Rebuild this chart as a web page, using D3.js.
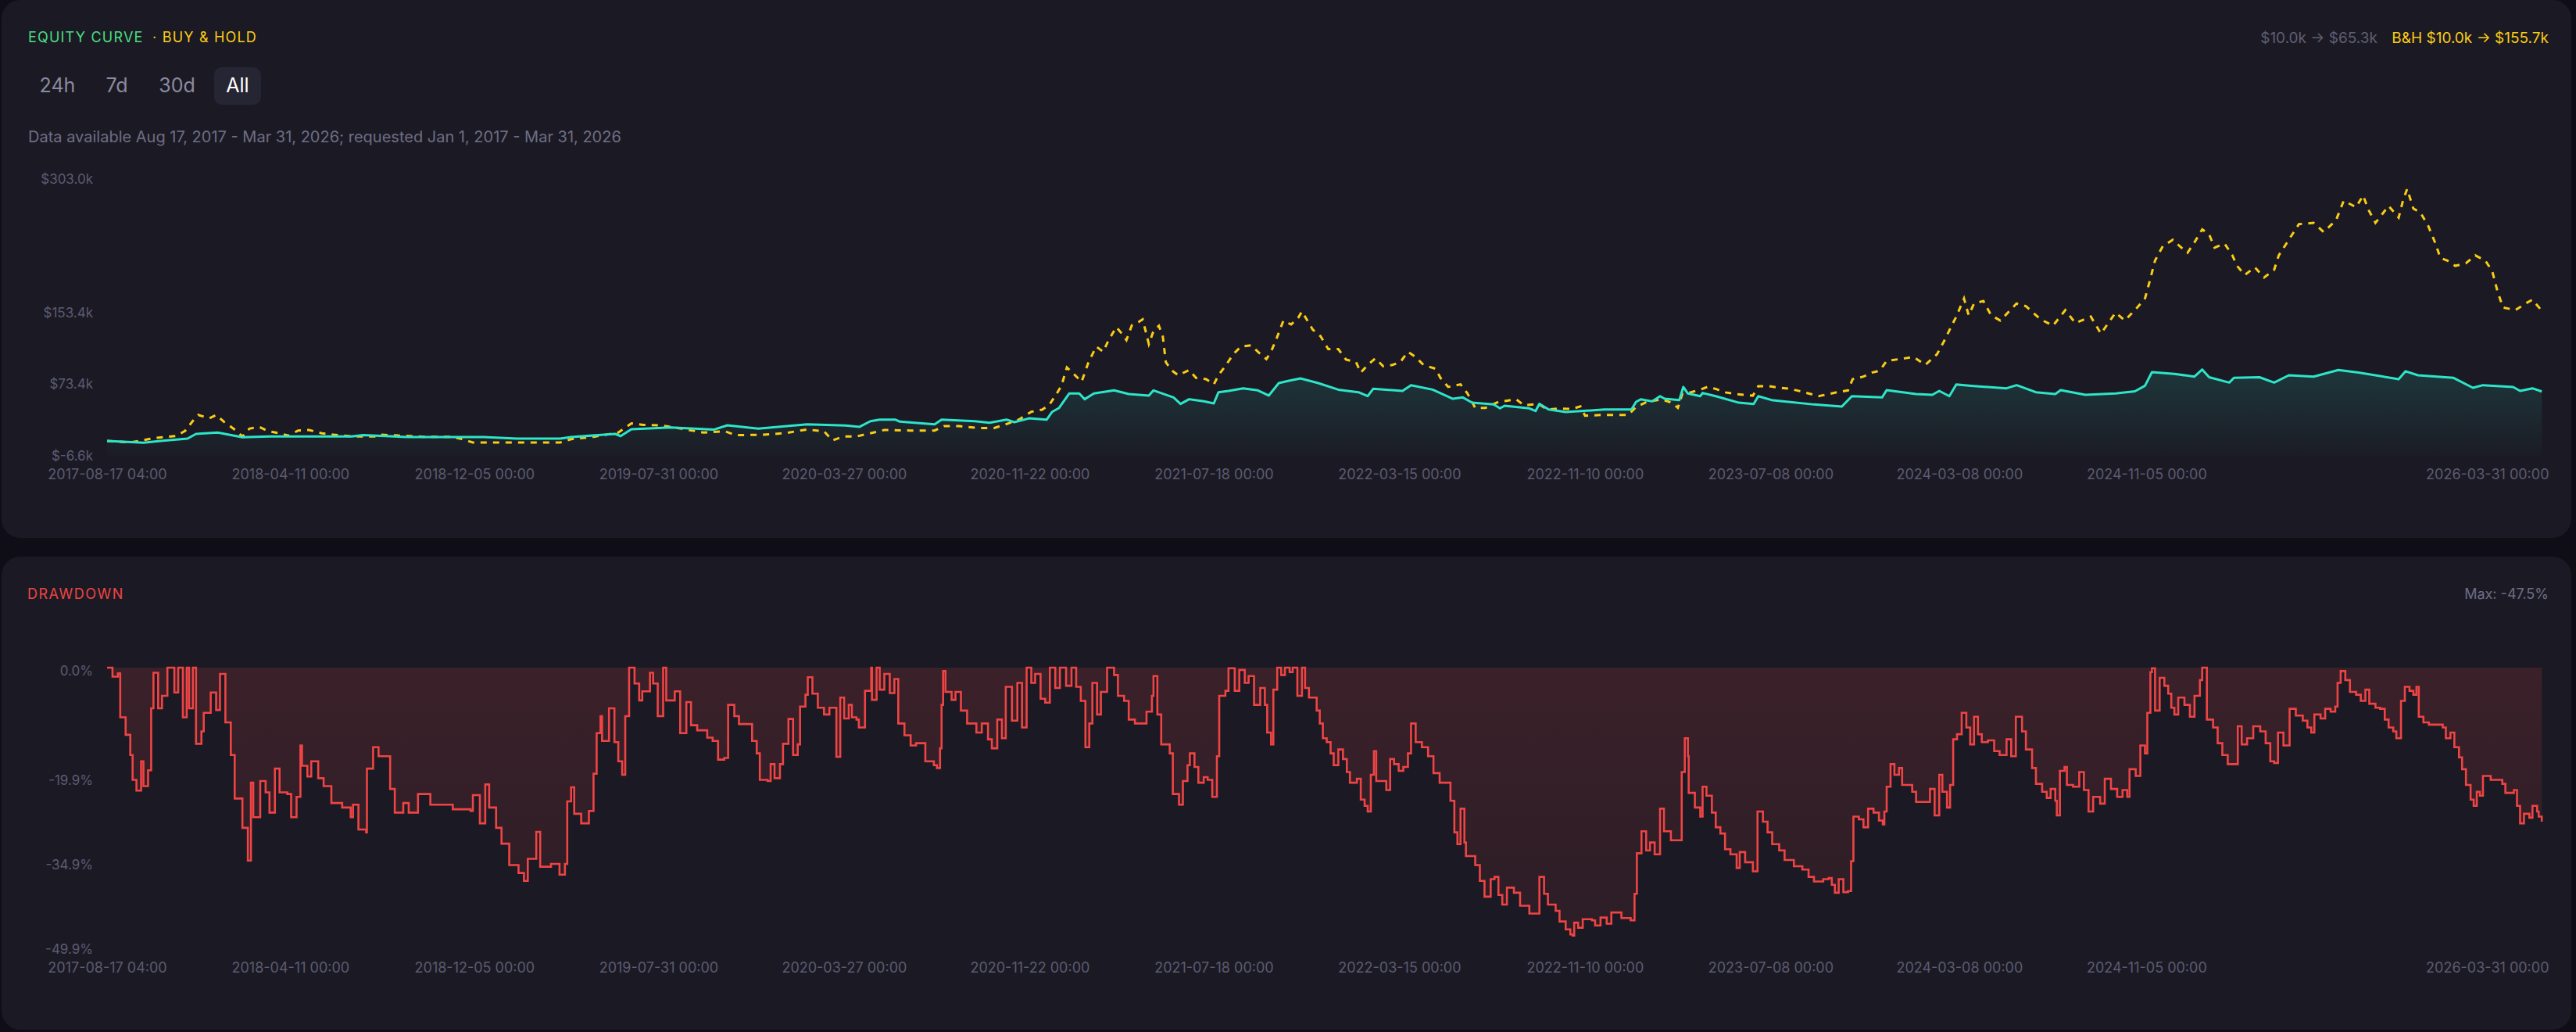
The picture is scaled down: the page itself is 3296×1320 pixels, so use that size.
<!DOCTYPE html>
<html>
<head>
<meta charset="utf-8">
<script src="https://cdn.jsdelivr.net/npm/d3@7"></script>
<style>
html, body { margin: 0; padding: 0; background: #0f0e16; }
svg { display: block; font-family: Inter, "Noto Sans", sans-serif; }
</style>
</head>
<body>
<div id="graf"></div>
<script>
// Datos
const inicio = Date.UTC(2017, 7, 17, 4)
const fin = Date.UTC(2026, 2, 31, 0)

// estrategia (k$), dias desde inicio
const eqDays = [0,47,69,104,115,143,175,210,316,331,
  388,487,530,586,600,657,664,678,729,785,
  802,842,905,955,973,987,999,1019,1025,1070,
  1079,1122,1141,1163,1173,1192,1215,1222,1231,1244,
  1257,1264,1276,1302,1321,1347,1353,1379,1388,1399,
  1418,1431,1437,1450,1469,1488,1502,1515,1527,1543,
  1566,1592,1618,1630,1637,1675,1686,1714,1740,1753,
  1765,1793,1801,1807,1839,1847,1852,1864,1886,1936,
  1971,1977,1983,1998,2008,2014,2033,2038,2044,2060,
  2063,2080,2110,2129,2135,2152,2207,2243,2256,2295,
  2301,2339,2360,2369,2382,2391,2410,2456,2469,2494,
  2519,2526,2558,2597,2622,2635,2644,2673,2699,2709,
  2718,2744,2750,2783,2802,2821,2853,2885,2911,2963,
  2972,2988,3034,3059,3072,3111,3120,3136,3148]
const eqValues = [10.0,8.0,10.0,12.6,17.9,19.4,14.1,15.0,15.0,16.5,
  14.4,14.4,12.6,12.6,14.4,17.9,15.5,23.1,25.1,22.8,
  27.5,23.7,28.6,27.2,25.8,32.1,33.9,33.9,31.6,28.6,
  33.9,32.1,30.4,33.9,31.0,35.3,33.9,42.6,47.0,63.1,
  63.1,56.7,63.1,66.6,62.5,60.8,66.6,58.7,51.4,56.7,
  54.4,52.0,64.5,66.0,68.9,66.6,60.8,74.7,77.1,80.0,
  74.7,67.4,64.5,60.2,68.3,66.0,72.4,67.4,57.2,58.7,
  52.9,51.0,46.5,49.4,46.5,43.5,51.6,45.2,42.3,45.2,
  45.2,53.7,56.6,54.3,60.1,57.2,55.8,70.4,63.1,60.1,
  63.7,60.1,52.8,51.4,60.1,55.8,50.8,48.5,60.1,58.7,
  66.9,62.5,61.6,66.0,60.1,73.2,71.7,68.9,72.4,64.5,
  62.5,66.9,61.6,63.1,65.5,71.8,87.0,85.0,82.0,89.9,
  81.3,75.3,80.7,81.3,75.3,83.5,82.0,89.4,86.5,79.2,
  88.0,83.5,80.6,69.5,72.4,70.4,66.0,68.9,65.3]

// buy & hold (k$)
const bhDays = [0,30,62,90,101,111,118,132,141,151,
  158,168,175,184,196,207,221,235,247,261,
  278,292,317,346,353,381,409,445,459,473,
  501,586,600,629,661,678,693,717,743,771,
  799,813,849,877,905,927,938,952,969,1005,
  1038,1070,1082,1102,1128,1147,1160,1179,1195,1209,
  1218,1228,1234,1241,1250,1260,1269,1279,1288,1295,
  1305,1312,1318,1325,1334,1339,1347,1353,1360,1365,
  1369,1376,1385,1399,1408,1421,1431,1437,1447,1456,
  1466,1479,1488,1499,1505,1512,1521,1531,1540,1545,
  1552,1559,1569,1579,1592,1602,1615,1621,1630,1640,
  1650,1662,1672,1682,1692,1702,1718,1724,1734,1750,
  1759,1769,1782,1799,1809,1822,1832,1851,1862,1876,
  1894,1905,1911,1936,1967,1977,1991,2010,2023,2031,
  2037,2048,2060,2069,2080,2091,2106,2128,2135,2149,
  2164,2176,2190,2213,2237,2251,2257,2271,2282,2292,
  2301,2324,2336,2351,2366,2375,2385,2391,2401,2407,
  2414,2426,2436,2448,2469,2481,2500,2516,2532,2545,
  2565,2578,2597,2609,2625,2635,2641,2648,2658,2671,
  2680,2690,2699,2709,2718,2725,2738,2748,2754,2764,
  2777,2789,2802,2808,2821,2834,2853,2866,2882,2892,
  2908,2917,2924,2933,2950,2963,2969,2974,2982,2991,
  3001,3010,3017,3026,3036,3050,3062,3075,3084,3091,
  3098,3114,3127,3136,3148]
const bhValues = [10.0,8.3,13.4,15.7,21.4,32.5,39.1,35.3,39.1,31.5,
  27.2,20.8,15.0,23.7,26.0,21.4,18.8,15.9,21.7,22.3,
  18.5,17.1,15.0,15.0,17.0,15.9,14.7,14.7,12.1,8.3,
  8.3,8.3,12.0,14.7,19.4,29.6,28.0,27.3,23.7,19.4,
  20.8,16.5,17.0,18.8,22.8,20.8,10.6,15.0,15.0,22.3,
  21.7,21.7,26.6,26.6,24.5,24.5,28.0,33.9,42.6,45.0,
  50.0,63.1,71.8,92.2,84.9,76.2,98.1,115.6,109.8,122.8,
  137.4,130.1,122.8,139.4,143.2,146.1,118.4,133.0,138.8,127.2,
  98.1,89.3,83.5,89.3,80.6,79.2,73.2,83.5,95.1,106.9,
  115.6,117.0,109.8,101.6,109.8,124.3,144.7,140.3,147.6,154.9,
  144.7,134.5,127.2,112.7,112.7,101.0,98.1,86.4,95.1,102.4,
  93.6,95.1,98.1,109.8,103.9,95.1,90.7,80.6,70.4,73.3,
  63.1,47.0,47.0,53.7,54.9,56.6,49.9,51.4,45.2,46.3,
  45.8,48.7,38.3,39.2,39.2,48.1,53.7,56.6,52.8,47.0,
  63.1,64.5,67.5,70.4,68.3,64.5,62.5,60.7,71.2,71.2,
  69.5,68.3,65.5,60.1,64.5,66.6,79.1,82.0,86.4,88.7,
  99.5,102.4,103.9,95.1,106.9,121.3,138.9,149.1,169.4,150.6,
  163.7,166.6,150.6,144.7,163.7,160.8,146.1,138.9,156.4,141.8,
  149.1,130.1,153.5,144.7,159.3,169.4,188.4,211.8,227.8,235.1,
  227.8,220.5,232.2,246.7,240.9,226.3,230.7,217.6,205.9,195.7,
  204.4,192.8,201.5,217.6,235.1,252.5,254.0,243.8,256.9,278.8,
  271.5,284.6,268.5,254.0,273.0,259.8,280.2,291.9,270.0,265.6,
  251.0,232.2,214.7,211.8,205.9,208.8,217.6,211.8,200.0,176.8,
  159.3,156.4,163.7,168.0,155.7]

// drawdown (%)
const ddDays = [0,7,14,17,24,30,33,38,44,47,
  53,57,60,66,71,78,87,92,98,103,
  106,111,115,122,125,134,141,146,153,160,
  165,175,182,186,189,198,205,210,217,223,
  233,238,245,250,252,259,264,273,280,290,
  304,315,318,325,335,336,344,351,362,366,
  372,383,390,402,418,447,470,473,482,489,
  494,503,510,520,532,539,544,555,560,574,
  585,592,595,600,604,613,623,629,633,638,
  640,649,656,661,666,670,675,682,688,692,
  702,706,712,719,723,734,741,749,755,763,
  776,783,790,798,803,811,817,830,834,840,
  844,854,858,863,870,874,881,887,893,896,
  903,906,912,919,927,934,943,948,953,959,
  963,969,972,980,988,989,995,999,1005,1012,
  1018,1023,1031,1039,1046,1058,1069,1073,1077,1079,
  1081,1084,1092,1097,1104,1112,1124,1131,1139,1144,
  1151,1157,1162,1170,1177,1183,1189,1195,1200,1207,
  1213,1219,1226,1232,1240,1247,1253,1259,1265,1270,
  1274,1280,1285,1293,1302,1307,1315,1321,1329,1336,
  1344,1351,1353,1358,1363,1374,1378,1386,1391,1397,
  1400,1406,1411,1418,1423,1429,1435,1438,1446,1450,
  1458,1464,1471,1476,1483,1491,1497,1500,1505,1508,
  1513,1518,1523,1529,1533,1539,1545,1549,1554,1564,
  1568,1572,1577,1582,1586,1592,1598,1603,1607,1616,
  1621,1626,1630,1634,1638,1641,1649,1654,1659,1664,
  1670,1676,1682,1686,1692,1700,1708,1715,1723,1732,
  1737,1742,1746,1750,1755,1757,1769,1775,1781,1789,
  1794,1799,1804,1810,1819,1827,1839,1848,1852,1858,
  1863,1873,1878,1886,1892,1895,1897,1902,1908,1920,
  1924,1931,1939,1945,1958,1970,1975,1978,1984,1990,
  1995,2001,2008,2013,2022,2034,2036,2040,2044,2045,
  2053,2060,2063,2068,2075,2080,2086,2092,2099,2107,
  2111,2118,2128,2134,2141,2147,2153,2162,2169,2181,
  2192,2200,2207,2219,2226,2230,2234,2239,2245,2251,
  2255,2258,2265,2271,2277,2284,2291,2296,2298,2301,
  2306,2311,2317,2321,2334,2339,2355,2357,2363,2369,
  2373,2379,2383,2387,2392,2398,2404,2409,2414,2419,
  2424,2432,2440,2447,2456,2462,2468,2476,2481,2489,
  2494,2502,2508,2513,2519,2521,2525,2531,2534,2542,
  2550,2556,2562,2568,2577,2583,2591,2599,2606,2612,
  2615,2623,2629,2635,2638,2642,2644,2648,2654,2660,
  2665,2669,2673,2678,2686,2693,2699,2706,2709,2715,
  2723,2729,2735,2742,2752,2755,2760,2767,2775,2784,
  2791,2797,2802,2807,2814,2822,2830,2839,2845,2850,
  2854,2862,2868,2875,2881,2884,2888,2894,2900,2908,
  2914,2920,2925,2933,2939,2945,2950,2956,2960,2966,
  2971,2977,2982,2986,2989,2995,3002,3012,3020,3024,
  3030,3035,3041,3045,3050,3056,3060,3064,3068,3072,
  3082,3097,3101,3112,3116,3120,3125,3132,3136,3142,
  3144,3148]
const ddValues = [0,-1.6,-1.0,-8.8,-11.9,-15.5,-19.9,-21.8,-16.6,-21.0,
  -18.2,-7.2,-0.9,-7.2,-5.0,0,-4.4,0,-8.8,0,
  -7.2,0,-13.5,-11.3,-8.0,-4.4,-7.5,-1.1,-9.7,-15.5,
  -23.2,-28.4,-34.2,-20.4,-26.5,-20.1,-22.1,-25.7,-17.9,-22.1,
  -22.4,-26.5,-22.9,-13.8,-17.4,-19.3,-16.6,-19.6,-21.0,-24.0,
  -24.8,-26.5,-24.3,-28.7,-29.2,-17.9,-14.1,-15.7,-15.7,-21.5,
  -25.7,-24.0,-25.7,-22.4,-24.3,-25.1,-25.4,-22.6,-27.6,-20.7,
  -24.8,-28.4,-31.2,-35.0,-36.4,-37.8,-33.9,-29.1,-35.3,-34.8,
  -36.7,-34.8,-23.7,-21.2,-25.9,-27.6,-25.4,-18.8,-11.6,-8.6,
  -13.0,-7.2,-13.2,-16.6,-19.0,-8.6,0,-2.8,-5.8,-4.2,
  -0.9,-2.8,-8.6,0,-5.8,-4.2,-11.6,-6.1,-10.2,-11.1,
  -12.4,-13.0,-16.3,-16.0,-6.6,-8.6,-10.0,-10.0,-13.0,-15.2,
  -19.9,-20.1,-17.1,-19.6,-17.1,-13.5,-9.1,-15.5,-13.6,-6.9,
  -4.8,-1.7,-4.6,-7.1,-8.3,-7.1,-15.8,-5.3,-9.0,-6.6,
  -8.8,-9.2,-10.6,-4.1,0,-5.7,0,-3.9,-1.1,-4.5,
  -2.0,-9.9,-12.0,-13.8,-13.4,-16.6,-17.3,-17.8,-14.3,-6.6,
  -0.6,-4.3,-5.7,-4.3,-7.6,-9.9,-11.5,-9.9,-12.7,-14.3,
  -9.2,-12.5,-3.4,-9.4,-2.7,-10.6,0,-2.7,-1.1,-5.5,
  -6.2,0,-3.6,0,-3.2,0,-3.4,-5.9,-14.1,-9.9,
  -2.7,-8.3,-4.3,0,-1.3,-5.0,-5.9,-9.2,-9.9,-9.9,
  -7.8,-5.0,-1.5,-8.3,-13.6,-15.2,-22.4,-24.3,-20.1,-17.3,
  -15.2,-17.6,-20.4,-19.4,-19.9,-22.9,-15.7,-5.0,-4.1,-0.1,
  -4.1,-0.4,-2.7,-1.5,-6.6,-3.6,-6.6,-11.5,-13.6,-3.9,
  0,-1.3,0,-0.8,0,-5.0,0,-3.6,-5.3,-7.6,
  -9.9,-12.5,-13.2,-15.2,-17.3,-14.5,-16.2,-18.5,-20.4,-19.7,
  -23.4,-24.5,-25.5,-19.0,-14.8,-20.1,-20.1,-21.7,-16.2,-17.1,
  -18.3,-17.6,-15.2,-9.9,-13.2,-14.1,-15.7,-18.7,-20.4,-20.4,
  -23.6,-29.2,-31.3,-25.0,-31.0,-33.4,-35.0,-37.8,-40.6,-37.5,
  -37.1,-40.3,-42.0,-39.0,-39.9,-42.2,-43.6,-43.6,-37.1,-40.1,
  -42.0,-43.1,-45.0,-46.4,-47.3,-47.5,-45.2,-46.1,-44.6,-44.8,
  -45.7,-44.3,-45.4,-43.4,-44.4,-44.8,-40.1,-32.9,-29.0,-32.4,
  -31.0,-33.1,-25.0,-29.0,-30.6,-30.6,-18.5,-12.5,-15.7,-22.2,
  -24.8,-26.4,-21.1,-22.7,-25.7,-28.3,-29.4,-32.2,-33.1,-35.5,
  -32.7,-34.5,-36.1,-25.5,-27.3,-29.2,-31.3,-32.4,-34.1,-35.2,
  -35.8,-37.1,-37.9,-37.5,-37.3,-38.5,-39.9,-37.5,-39.8,-39.6,
  -34.3,-26.4,-26.9,-28.3,-25.0,-25.7,-27.1,-27.8,-25.5,-21.1,
  -17.1,-19.0,-17.8,-20.8,-22.0,-23.8,-23.8,-21.5,-26.2,-19.0,
  -22.0,-24.8,-20.8,-12.7,-11.8,-8.0,-10.6,-13.6,-8.7,-11.8,
  -13.2,-12.9,-14.8,-15.5,-12.7,-15.7,-8.7,-11.3,-14.5,-17.8,
  -20.6,-22.0,-23.1,-21.5,-23.6,-26.2,-18.3,-17.6,-20.8,-21.1,
  -18.5,-21.7,-25.5,-22.9,-24.1,-19.7,-21.5,-22.9,-21.7,-22.9,
  -18.0,-19.2,-13.8,-15.2,-8.0,-0.8,-0.1,-7.6,-1.8,-3.2,
  -4.6,-7.1,-8.3,-5.3,-6.6,-8.7,-5.0,-2.2,0,-9.2,
  -10.6,-13.4,-15.5,-17.1,-17.1,-10.4,-13.6,-12.5,-10.4,-11.3,
  -13.4,-16.6,-16.9,-11.5,-13.8,-7.3,-8.5,-9.4,-10.6,-11.5,
  -8.3,-9.0,-7.3,-7.8,-6.9,-2.7,-0.6,-2.2,-4.3,-4.8,
  -5.9,-3.9,-6.4,-7.1,-7.3,-9.2,-10.6,-11.3,-12.5,-5.9,
  -3.4,-4.1,-4.8,-3.4,-8.7,-9.7,-10.1,-10.1,-10.6,-12.5,
  -11.5,-14.1,-15.9,-18.0,-20.8,-23.4,-24.5,-22.0,-22.7,-19.2,
  -19.9,-20.6,-22.2,-21.7,-24.5,-27.6,-25.9,-26.6,-24.5,-25.5,
  -26.4,-27.3]

// Etiquetas de ejes
const tickFechas = ['2017-08-17 04:00','2018-04-11 00:00','2018-12-05 00:00','2019-07-31 00:00',
  '2020-03-27 00:00','2020-11-22 00:00','2021-07-18 00:00','2022-03-15 00:00','2022-11-10 00:00',
  '2023-07-08 00:00','2024-03-08 00:00','2024-11-05 00:00','2026-03-31 00:00']
const eqTicks = [-6.6, 73.4, 153.4, 303.0]
const ddTicks = [0, -19.9, -34.9, -49.9]

// Colores
const cTeal = '#2de5c8'
const cYellow = '#facc15'
const cRed = '#ef4444'
const cGreen = '#4ade80'
const cMuted = '#6e6d85'
const cAxis = '#5c5b71'

// Dimensiones
const anchoTotal = 3296
const altoTotal = 1320

const svg = d3.select('#graf').append('svg')
    .attr('width', anchoTotal)
    .attr('height', altoTotal)

const defs = svg.append('defs')
const gEq = defs.append('linearGradient').attr('id', 'gradEq').attr('x1', 0).attr('y1', 0).attr('x2', 0).attr('y2', 1)
gEq.append('stop').attr('offset', '0%').attr('stop-color', cTeal).attr('stop-opacity', 0.14)
gEq.append('stop').attr('offset', '100%').attr('stop-color', cTeal).attr('stop-opacity', 0.01)
const gDd = defs.append('linearGradient').attr('id', 'gradDd').attr('x1', 0).attr('y1', 0).attr('x2', 0).attr('y2', 1)
gDd.append('stop').attr('offset', '0%').attr('stop-color', cRed).attr('stop-opacity', 0.15)
gDd.append('stop').attr('offset', '100%').attr('stop-color', cRed).attr('stop-opacity', 0.08)

// Paneles
svg.append('rect').attr('x', 2).attr('y', 0).attr('width', 3288).attr('height', 688)
    .attr('rx', 24).attr('fill', '#1b1a24')
svg.append('rect').attr('x', 2).attr('y', 712).attr('width', 3288).attr('height', 605)
    .attr('rx', 24).attr('fill', '#1b1a24')

// Cabecera
const titulo = svg.append('text').attr('x', 36).attr('y', 54)
    .style('font-size', '18px').style('letter-spacing', '1.2px')
titulo.append('tspan').attr('fill', cGreen).text('EQUITY CURVE')
titulo.append('tspan').attr('fill', cYellow).attr('x', 195).text('· BUY & HOLD')

svg.append('text').attr('x', 3261).attr('y', 55).attr('text-anchor', 'end')
    .attr('fill', cYellow).style('font-size', '19px').text('B&H $10.0k → $155.7k')
svg.append('text').attr('x', 3042).attr('y', 55).attr('text-anchor', 'end')
    .attr('fill', '#5f5e73').style('font-size', '19px').text('$10.0k → $65.3k')

const botones = [
    { t: '24h', x: 73.5 },
    { t: '7d', x: 149.5 },
    { t: '30d', x: 226.5 },
    { t: 'All', x: 304, activo: true }
]
svg.append('rect').attr('x', 274).attr('y', 86).attr('width', 60).attr('height', 48)
    .attr('rx', 10).attr('fill', '#262534')
svg.selectAll('text.boton').data(botones).enter().append('text')
    .attr('class', 'boton')
    .attr('x', d => d.x).attr('y', 118)
    .attr('text-anchor', 'middle')
    .attr('fill', d => d.activo ? '#ffffff' : '#8b8aa0')
    .style('font-size', '25px')
    .text(d => d.t)

svg.append('text').attr('x', 36).attr('y', 182).attr('fill', cMuted)
    .style('font-size', '20px')
    .text('Data available Aug 17, 2017 - Mar 31, 2026; requested Jan 1, 2017 - Mar 31, 2026')

// Escaladores
const dia = (d) => new Date(inicio + d * 864e5)
const x = d3.scaleUtc().domain([new Date(inicio), new Date(fin)]).range([137, 3252])
const yEq = d3.scaleLinear().domain([-6.6, 303.0]).range([583, 229])
const yDd = d3.scaleLinear().domain([-49.9, 0]).range([1214, 854])

const eqData = eqDays.map((d, i) => ({ fecha: dia(d), v: eqValues[i] }))
const bhData = bhDays.map((d, i) => ({ fecha: dia(d), v: bhValues[i] }))
const ddData = ddDays.map((d, i) => ({ fecha: dia(d), v: ddValues[i] }))

// Curva de capital
const areaEq = d3.area().x(d => x(d.fecha)).y0(yEq(-6.6)).y1(d => yEq(d.v))
const lineaEq = d3.line().x(d => x(d.fecha)).y(d => yEq(d.v))

svg.append('path').datum(eqData).attr('d', areaEq).attr('fill', 'url(#gradEq)')
svg.append('path').datum(bhData).attr('d', lineaEq)
    .attr('fill', 'none').attr('stroke', cYellow).attr('stroke-width', 3)
    .attr('stroke-dasharray', '8,8')
svg.append('path').datum(eqData).attr('d', lineaEq)
    .attr('fill', 'none').attr('stroke', cTeal).attr('stroke-width', 3)
    .attr('stroke-linejoin', 'round')

// Drawdown
const areaDd = d3.area().curve(d3.curveStepAfter).x(d => x(d.fecha)).y0(yDd(0)).y1(d => yDd(d.v))
const lineaDd = d3.line().curve(d3.curveStepAfter).x(d => x(d.fecha)).y(d => yDd(d.v))
svg.append('path').datum(ddData).attr('d', areaDd).attr('fill', 'url(#gradDd)')
svg.append('path').datum(ddData).attr('d', lineaDd)
    .attr('fill', 'none').attr('stroke', cRed).attr('stroke-width', 2.6)

svg.append('text').attr('x', 35).attr('y', 766).attr('fill', cRed)
    .style('font-size', '18px').style('letter-spacing', '1.5px').text('DRAWDOWN')
svg.append('text').attr('x', 3261).attr('y', 766).attr('text-anchor', 'end')
    .attr('fill', cMuted).style('font-size', '18px').text('Max: -47.5%')

// Ejes
const parse = d3.utcParse('%Y-%m-%d %H:%M')
const fmtFecha = d3.utcFormat('%Y-%m-%d %H:%M')
const fechasTick = tickFechas.map(parse)

const ejeX = (yPos) => {
    const g = svg.append('g').attr('transform', `translate(0, ${yPos})`)
        .call(d3.axisBottom(x).tickValues(fechasTick).tickFormat(fmtFecha).tickSize(0).tickPadding(17))
    g.select('.domain').remove()
    g.selectAll('text').attr('fill', cAxis).style('font-size', '18px').style('font-family', 'Inter, sans-serif')
    g.selectAll('.tick').filter((d, i, n) => i === n.length - 1)
        .select('text').attr('text-anchor', 'end').attr('x', 9)
}
ejeX(583)
ejeX(1214)

const ejeY = (escala, ticks, fmt) => {
    const g = svg.append('g').attr('transform', 'translate(137, 0)')
        .call(d3.axisLeft(escala).tickValues(ticks).tickFormat(fmt).tickSize(0).tickPadding(18))
    g.select('.domain').remove()
    g.selectAll('text').attr('fill', cAxis).style('font-size', '17px').style('font-family', 'Inter, sans-serif')
    return g
}
ejeY(yEq, eqTicks, v => `$${v.toFixed(1)}k`)
const gDdY = ejeY(yDd, ddTicks, v => `${v.toFixed(1)}%`)
gDdY.selectAll('.tick').filter(d => d === 0).select('text').attr('y', 4)
</script>
</body>
</html>
